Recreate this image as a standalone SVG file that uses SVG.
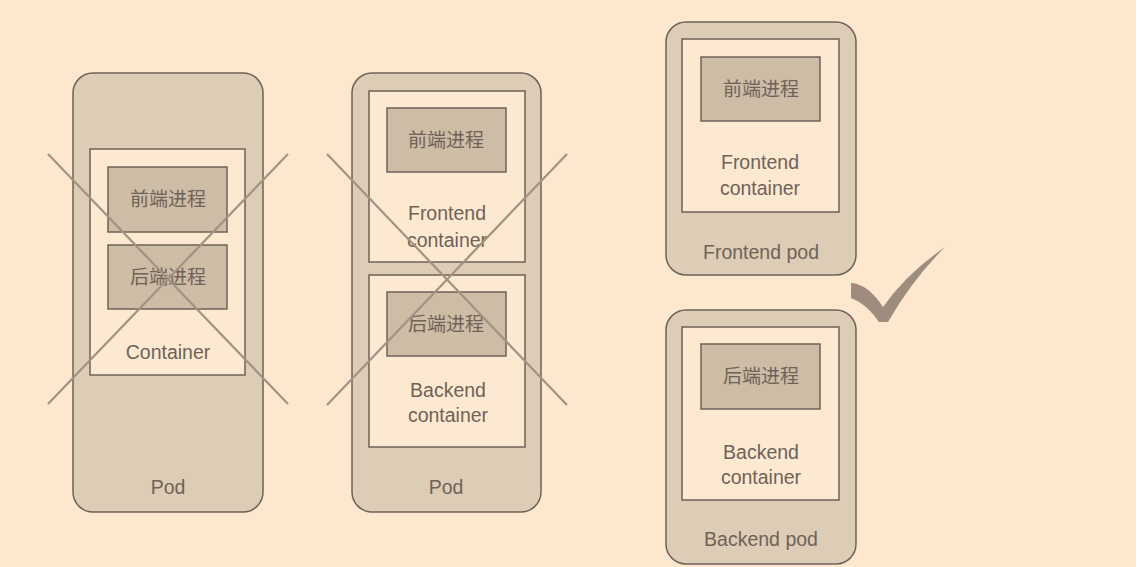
<svg xmlns="http://www.w3.org/2000/svg" width="1136" height="567" viewBox="0 0 1136 567">
<style>
.pod{fill:#ddcdb6;stroke:#6e6258;stroke-width:1.5}
.ctr{fill:#fde9d1;stroke:#6e6258;stroke-width:1.5}
.proc{fill:#cdbca6;stroke:#6e6258;stroke-width:1.5}
.t{font-family:"Liberation Sans","Noto Sans CJK SC",sans-serif;font-size:19.5px;fill:#6f6258;text-anchor:middle}
.c{font-family:"Noto Sans CJK SC",sans-serif;font-size:19px;fill:#6f6258;text-anchor:middle}
.x{stroke:#a39282;stroke-width:2.2;fill:none}
</style>
<rect width="1136" height="567" fill="#fde8cf"/>
<g id="pod1">
<rect class="pod" x="73" y="73" width="190" height="439" rx="20"/>
<rect class="ctr" x="90" y="149" width="155" height="226"/>
<rect class="proc" x="108" y="167" width="119" height="65"/>
<text class="c" x="168" y="206">前端进程</text>
<rect class="proc" x="108" y="245" width="119" height="64"/>
<text class="c" x="168" y="284">后端进程</text>
<text class="t" x="168" y="359">Container</text>
<text class="t" x="168" y="494">Pod</text>
</g>
<g id="pod2">
<rect class="pod" x="352" y="73" width="189" height="439" rx="20"/>
<rect class="ctr" x="369" y="91" width="156" height="171"/>
<rect class="proc" x="387" y="108" width="119" height="64"/>
<text class="c" x="446" y="147">前端进程</text>
<text class="t" x="447" y="220">Frontend</text>
<text class="t" x="447" y="247">container</text>
<rect class="ctr" x="369" y="275" width="156" height="172"/>
<rect class="proc" x="387" y="292" width="119" height="64"/>
<text class="c" x="446" y="331">后端进程</text>
<text class="t" x="448" y="397">Backend</text>
<text class="t" x="448" y="422">container</text>
<text class="t" x="446" y="494">Pod</text>
</g>
<g id="frontend-pod">
<rect class="pod" x="666" y="22" width="190" height="253" rx="20"/>
<rect class="ctr" x="682" y="39" width="157" height="173"/>
<rect class="proc" x="701" y="57" width="119" height="64"/>
<text class="c" x="761" y="96">前端进程</text>
<text class="t" x="760" y="169">Frontend</text>
<text class="t" x="760" y="195">container</text>
<text class="t" x="761" y="259">Frontend pod</text>
</g>
<g id="backend-pod">
<rect class="pod" x="666" y="310" width="190" height="254" rx="20"/>
<rect class="ctr" x="682" y="327" width="157" height="173"/>
<rect class="proc" x="701" y="344" width="119" height="65"/>
<text class="c" x="761" y="383">后端进程</text>
<text class="t" x="761" y="459">Backend</text>
<text class="t" x="761" y="484">container</text>
<text class="t" x="761" y="546">Backend pod</text>
</g>
<g id="connectors">
<line class="x" x1="48" y1="154" x2="288" y2="404"/>
<line class="x" x1="288" y1="154" x2="48" y2="404"/>
<line class="x" x1="327" y1="154" x2="567" y2="405"/>
<line class="x" x1="567" y1="154" x2="327" y2="405"/>
<path d="M851,283 Q868,284 883,307 Q906,274 945,247 Q912,280 888,322 L879,322 Q867,304 851,298 Z" fill="#9e8d7e"/>
</g>
</svg>
